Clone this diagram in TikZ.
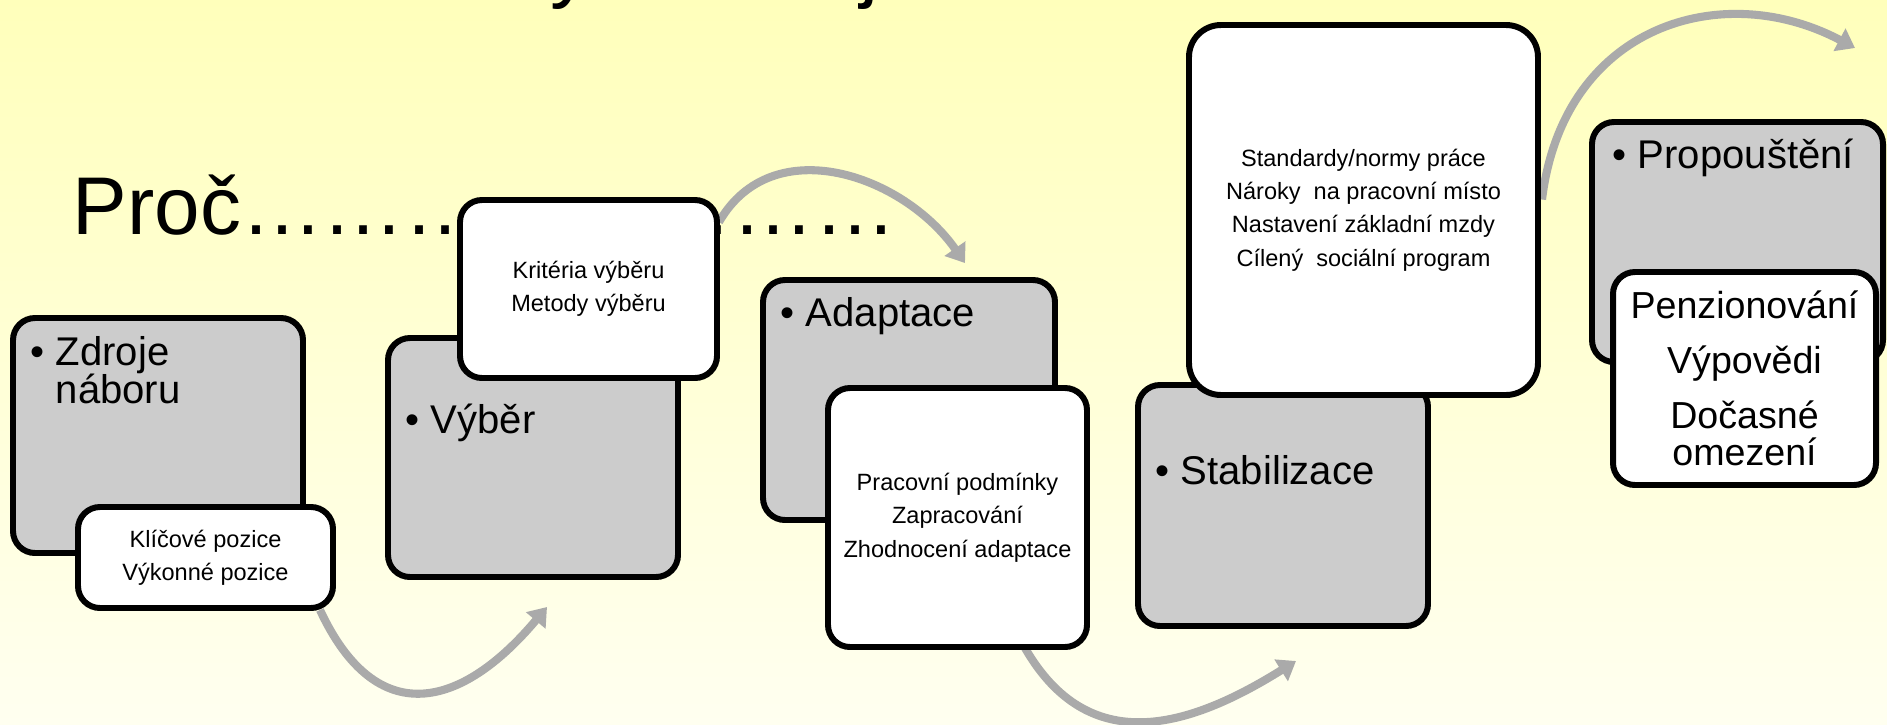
\documentclass[tikz,border=0pt]{standalone}
\usepackage{fontspec}
\setmainfont{Liberation Sans}
\usetikzlibrary{arrows.meta}
\usetikzlibrary{calc}
\usetikzlibrary{positioning}

\definecolor{bgtop}{RGB}{255,255,187}
\definecolor{bgbottom}{RGB}{255,255,240}
\definecolor{boxgrey}{RGB}{204,204,204}
\definecolor{arcgrey}{RGB}{170,170,170}

\pgfdeclarelayer{bg}
\pgfdeclarelayer{arcs}
\pgfsetlayers{bg,arcs,main}

\begin{document}
\begin{tikzpicture}[
    stage/.style = {draw=black, line width=1.7pt, fill=boxgrey, rounded corners=0.22cm,
                    inner sep=0pt, outer sep=0pt},
    detail/.style = {draw=black, line width=1.7pt, fill=white, rounded corners=0.22cm,
                     inner sep=0pt, outer sep=0pt, align=center,
                     font=\fontsize{6.7}{9.5}\selectfont},
    head/.style = {anchor=base west, inner sep=0pt, align=left,
                   font=\fontsize{11.4}{10.8}\selectfont},
    big/.style = {anchor=base west, inner sep=0pt, font=\fontsize{23.3}{24}\selectfont},
    flow/.style = {draw=arcgrey, line width=2.3pt, -{Triangle[length=5pt,width=7pt]}}
]
\useasboundingbox (0,0) rectangle (18.87,-7.24);
\clip (0,0) rectangle (18.87,-7.24);
\begin{pgfonlayer}{bg}
    \shade[top color=bgtop, bottom color=bgbottom] (0,0) rectangle (18.87,-7.24);
\end{pgfonlayer}

% title line, cut off at the top
\node[big] (ty) at (5.50,0.08) {y};
\node[big] (tj) at (8.60,0.08) {j};

\node[big] (proc) at (0.72,-2.34) {Proč……………………};

% stages
\node[stage, minimum width=2.90cm, minimum height=2.35cm] (g1) at (1.58,-4.355) {};
\node[head] (t1) at ($(g1.north west)+(0.17,-0.85)$) {• Zdroje\\\phantom{• }náboru};
\node[detail, minimum width=2.55cm, minimum height=1.01cm] (w1) at (2.055,-5.575)
    {Klíčové pozice\\Výkonné pozice};

\node[stage, minimum width=2.90cm, minimum height=2.39cm] (g2) at (5.33,-4.575) {};
\node[head] (t2) at ($(g2.north west)+(0.17,-0.95)$) {• Výběr};
\node[detail, minimum width=2.57cm, minimum height=1.78cm] (w2) at (5.885,-2.89)
    {Kritéria výběru\\Metody výběru};

\node[stage, minimum width=2.92cm, minimum height=2.40cm] (g3) at (9.09,-4.00) {};
\node[head] (t3) at ($(g3.north west)+(0.17,-0.46)$) {• Adaptace};
\node[detail, minimum width=2.59cm, minimum height=2.59cm] (w3) at (9.575,-5.175)
    {Pracovní podmínky\\Zapracování\\Zhodnocení adaptace};

\node[stage, minimum width=2.90cm, minimum height=2.41cm] (g4) at (12.83,-5.055) {};
\node[head] (t4) at ($(g4.north west)+(0.17,-0.99)$) {• Stabilizace};
\node[detail, minimum width=3.49cm, minimum height=3.70cm, rounded corners=0.32cm] (w4)
    at (13.635,-2.10)
    {Standardy/normy práce\\Nároky\ \ na pracovní místo\\Nastavení základní mzdy\\Cílený\ \ sociální program};

\node[stage, minimum width=2.91cm, minimum height=2.40cm] (g5) at (17.375,-2.42) {};
\node[head] (t5) at ($(g5.north west)+(0.20,-0.46)$) {• Propouštění};
\node[detail, minimum width=2.63cm, minimum height=2.13cm, font=\fontsize{10.7}{10.8}\selectfont]
    (w5) at (17.445,-3.785)
    {Penzionování\\[4.8pt]Výpovědi\\[4.8pt]Dočasné\\omezení};

% arrows between the stages
\begin{pgfonlayer}{arcs}
    \draw[flow] ($(w1.south east)+(-0.13,-0.02)$) to[out=-65,in=-130,looseness=1.5]
        ($(g2.south)+(0.14,-0.30)$);
    \draw[flow] ($(w2.north east)+(0.02,-0.22)$) to[out=60,in=125,looseness=1.1]
        ($(g3.north)+(0.56,0.17)$);
    \draw[flow] ($(w3.south)+(0.675,-0.01)$) to[out=-60,in=-148,looseness=1.2]
        ($(g4.south)+(0.13,-0.35)$);
    \draw[flow] ($(w4.east)+(0.04,0.105)$) to[out=83,in=152,out looseness=1.3,in looseness=1.1]
        ($(g5.north)+(1.175,0.74)$);
\end{pgfonlayer}
\end{tikzpicture}
\end{document}
